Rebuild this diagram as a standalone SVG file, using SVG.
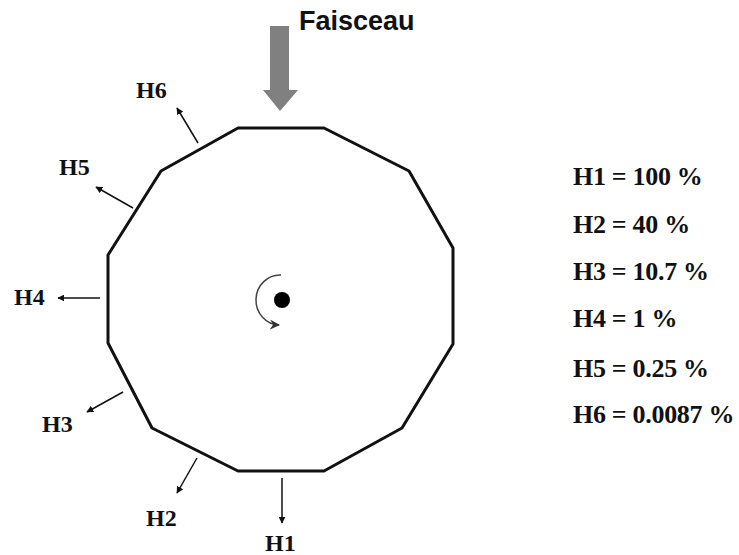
<svg xmlns="http://www.w3.org/2000/svg" width="739" height="555" viewBox="0 0 739 555">
<style>
.lbl{font-family:"Liberation Serif","Times New Roman",serif;font-weight:bold;font-size:24px;fill:#111}
.val{font-family:"Liberation Serif","Times New Roman",serif;font-weight:bold;font-size:26px;fill:#111;letter-spacing:-0.3px}
.arr{stroke:#111;stroke-width:1.5;fill:none;marker-end:url(#ah)}
</style>
<defs>
<marker id="ah" viewBox="0 0 10 10" refX="9" refY="5" markerWidth="7" markerHeight="7" markerUnits="userSpaceOnUse" orient="auto">
<path d="M0,0 L10,5 L0,10 Z" fill="#111"/>
</marker>
<marker id="ah2" viewBox="0 0 10 10" refX="9" refY="5" markerWidth="10" markerHeight="10" markerUnits="userSpaceOnUse" orient="auto">
<path d="M0,0 L10,5 L0,10 L3,5 Z" fill="#333"/>
</marker>
</defs>
<rect width="739" height="555" fill="#fff"/>
<g id="beam">
<path d="M270,26 L289,26 L289,90 L298,90 L280,111 L263,90 L270,90 Z" fill="#808080"/>
<text x="299" y="30" font-family="Liberation Sans,Arial,sans-serif" font-weight="bold" font-size="27" fill="#111">Faisceau</text>
</g>
<g id="dodecagon">
<polygon points="238,128 324,128 409,171 453,248 453,344 402,428 324,471 238,471 152,428 108,343 108,255 161,171" fill="none" stroke="#111" stroke-width="3" stroke-linejoin="round"/>
</g>
<g id="rotation">
<circle cx="282" cy="300" r="8" fill="#000"/>
<path d="M281,275 A24,25 0 1 0 279,325" fill="none" stroke="#444" stroke-width="1.5" marker-end="url(#ah2)"/>
</g>
<g id="connectors">
<line class="arr" x1="198" y1="143" x2="177" y2="108"/>
<line class="arr" x1="133" y1="208" x2="96" y2="187"/>
<line class="arr" x1="100" y1="298" x2="58" y2="298"/>
<line class="arr" x1="123" y1="392" x2="87" y2="412"/>
<line class="arr" x1="197" y1="458" x2="177" y2="493"/>
<line class="arr" x1="282" y1="478" x2="282" y2="523"/>
</g>
<g id="labels">
<text class="lbl" x="136" y="98">H6</text>
<text class="lbl" x="59" y="175">H5</text>
<text class="lbl" x="14" y="305">H4</text>
<text class="lbl" x="42" y="432">H3</text>
<text class="lbl" x="146" y="526">H2</text>
<text class="lbl" x="265" y="551">H1</text>
</g>
<g id="values">
<text class="val" x="573" y="185">H1 = 100 %</text>
<text class="val" x="573" y="233">H2 = 40 %</text>
<text class="val" x="573" y="280">H3 = 10.7 %</text>
<text class="val" x="573" y="327">H4 = 1 %</text>
<text class="val" x="573" y="377">H5 = 0.25 %</text>
<text class="val" x="573" y="423">H6 = 0.0087 %</text>
</g>
</svg>
